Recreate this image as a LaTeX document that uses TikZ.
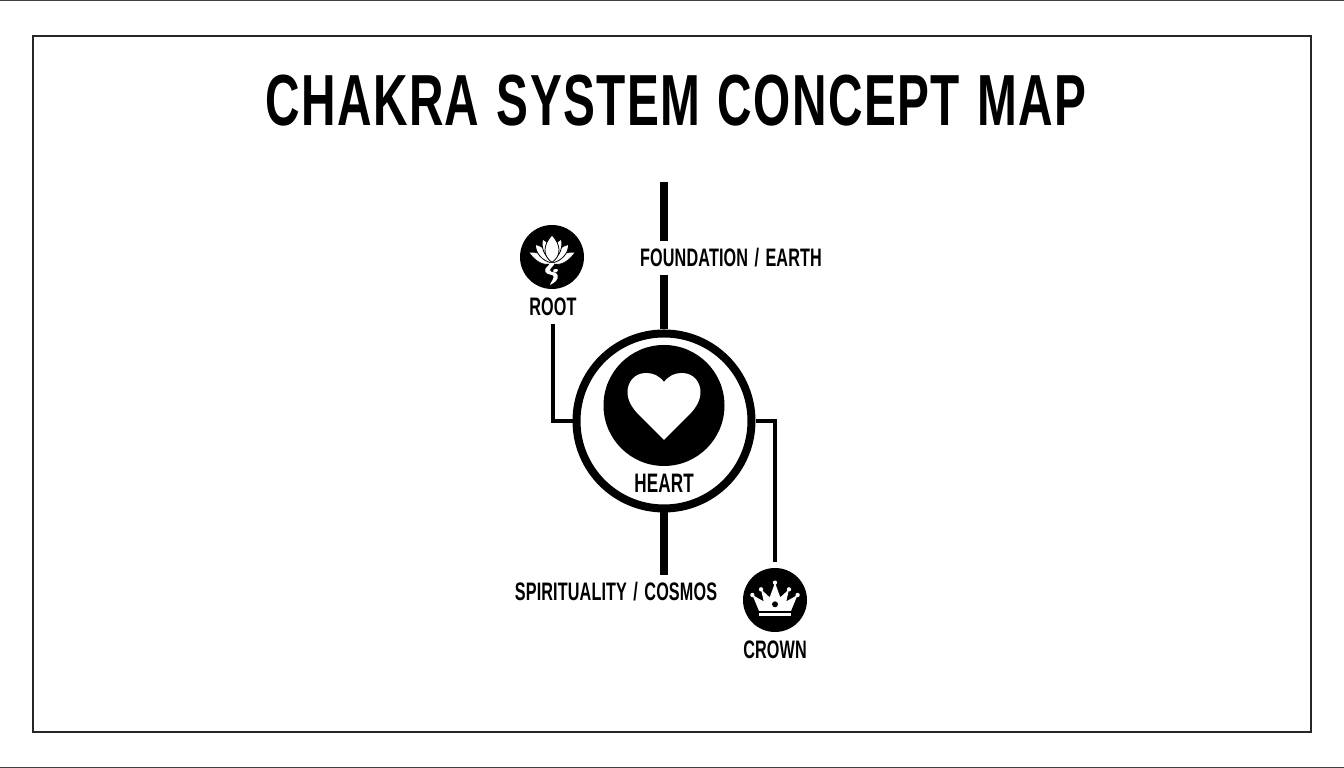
\documentclass[tikz,border=0pt]{standalone}
\usepackage{fontspec}
\newfontfamily\labelfont[FakeStretch=.64,LetterSpace=.5,WordSpace=1.4]{Liberation Sans}
\newfontfamily\titlefont[FakeStretch=.66,LetterSpace=1.9,WordSpace=1.2]{Liberation Sans}
\usetikzlibrary{positioning}

\tikzset{
  disc/.style={shape=circle,fill=black,inner sep=0pt,outer sep=.06cm},
  lbl/.style={inner sep=0pt,outer sep=.08cm,text height=.175cm,text depth=0pt,
    font=\labelfont\bfseries\fontsize{7.2}{8}\selectfont},
  stem/.style={line width=.075cm},
  wire/.style={line width=.04cm},
  petal/.style={fill=white,draw=black,line width=.008cm}
}

\begin{document}
\begin{tikzpicture}
\useasboundingbox (0,0) rectangle (13.44,7.68);
\fill[white] (0,0) rectangle (13.44,7.68);
\draw[line width=.02cm,color=black!75] (0,7.68)--(13.44,7.68); %%
\draw[line width=.02cm,color=black!75] (0,0)--(13.44,0); %%
\draw[line width=.02cm,color=black!85] (.33,.36) rectangle (13.11,7.32);

\node[inner sep=0pt,font=\titlefont\bfseries\fontsize{20.6}{24}\selectfont] (title) at (6.76,6.67) {CHAKRA SYSTEM CONCEPT MAP};

\node[shape=circle,draw,line width=.08cm,minimum size=1.75cm,inner sep=0pt] (ring) at (6.64,3.47) {}; %%
\node[disc,minimum size=1.21cm] (heartdisc) at (6.64,3.625) {}; %%
\node[disc,minimum size=.64cm] (rootdisc) at (5.52,5.11) {}; %%
\node[disc,minimum size=.64cm] (crowndisc) at (7.75,1.68) {}; %%
\coordinate (topend) at (6.64,5.86);

\node[lbl] (rootlbl) at (5.53,4.61) {ROOT}; %%
\node[lbl] (foundlbl) at (7.31,5.10) {FOUNDATION / EARTH}; %%
\node[lbl,outer sep=0pt,font=\labelfont\bfseries\fontsize{7.6}{8}\selectfont] (heartlbl) at (6.64,2.84) {HEART}; %%
\node[lbl] (spiritlbl) at (6.16,1.76) {SPIRITUALITY / COSMOS}; %%
\node[lbl] (crownlbl) at (7.75,1.18) {CROWN};

\draw[stem] (topend)--(topend |- foundlbl.north); %%
\draw[stem] (foundlbl.south -| ring)--(ring.north); %%
\draw[stem] (ring.south)--(spiritlbl.north -| ring); %%
\draw[wire] (rootlbl.south) |- (ring.west); %%
\draw[wire] (ring.east) -| (crowndisc.north);

% heart
\begin{scope}[shift={(heartdisc.center)},x=.01cm,y=.01cm]
\fill[white] (0,23.5) .. controls (5,30) and (11,32.5) .. (18,32.5)
  .. controls (29,32.5) and (36.5,24) .. (36.5,13.5)
  .. controls (36.5,4) and (31,-3) .. (26,-8.5) -- (0,-34.5) -- (-26,-8.5)
  .. controls (-31,-3) and (-36.5,4) .. (-36.5,13.5)
  .. controls (-36.5,24) and (-29,32.5) .. (-18,32.5)
  .. controls (-11,32.5) and (-5,30) .. (0,23.5) -- cycle;
\end{scope}

% lotus, in thirds of a pixel
\begin{scope}[shift={(rootdisc.center)},x=.00333cm,y=.00333cm]
\foreach \s in {-1,1} {
  \begin{scope}[xscale=\s]
  \path[petal] (0,-20) .. controls (-30,-30) and (-54,-8) .. (-70,14) .. controls (-44,18) and (-18,6) .. (0,-20) -- cycle;
  \path[petal] (0,-18) .. controls (-30,-12) and (-50,12) .. (-50,38) .. controls (-28,34) and (-10,16) .. (0,-18) -- cycle;
  \path[petal] (0,-14) .. controls (-24,4) and (-34,30) .. (-28,54) .. controls (-12,46) and (-4,30) .. (0,-14) -- cycle;
  \end{scope}
}
\path[petal] (0,-16) .. controls (-30,4) and (-26,38) .. (0,66) .. controls (26,38) and (30,4) .. (0,-16) -- cycle;
\fill[white] (-7,-18) .. controls (-7,-28) and (-24,-30) .. (-20,-44)
  .. controls (-16,-56) and (6,-50) .. (5,-60) .. controls (5,-68) and (-2,-72) .. (-6,-84)
  .. controls (8,-78) and (20,-68) .. (17,-55) .. controls (14,-42) and (-6,-48) .. (-6,-40)
  .. controls (-6,-32) and (7,-28) .. (7,-18) -- cycle;
\fill[white] (4,-38) .. controls (10,-34) and (15,-36) .. (19,-39) .. controls (18,-46) and (10,-48) .. (4,-46) -- cycle;
\end{scope}

% crown, in thirds of a pixel
\begin{scope}[shift={(crowndisc.center)},x=.00333cm,y=.00333cm]
\fill[white] (-68,15) -- (-34,-4) -- (-42,32) -- (-16,8) -- (0,52) -- (16,8) -- (42,32) -- (34,-4) -- (68,15)
  -- (48,-33) -- (-48,-33) -- cycle;
\foreach \x/\y in {-68/15,-42/32,0/52,42/32,68/15} {
  \fill[white] (\x,\y) circle (6.5);
}
\fill[black] (0,-13) circle (9);
\fill[white] (-48,-40) rectangle (48,-48);
\end{scope}
\end{tikzpicture}
\end{document}
